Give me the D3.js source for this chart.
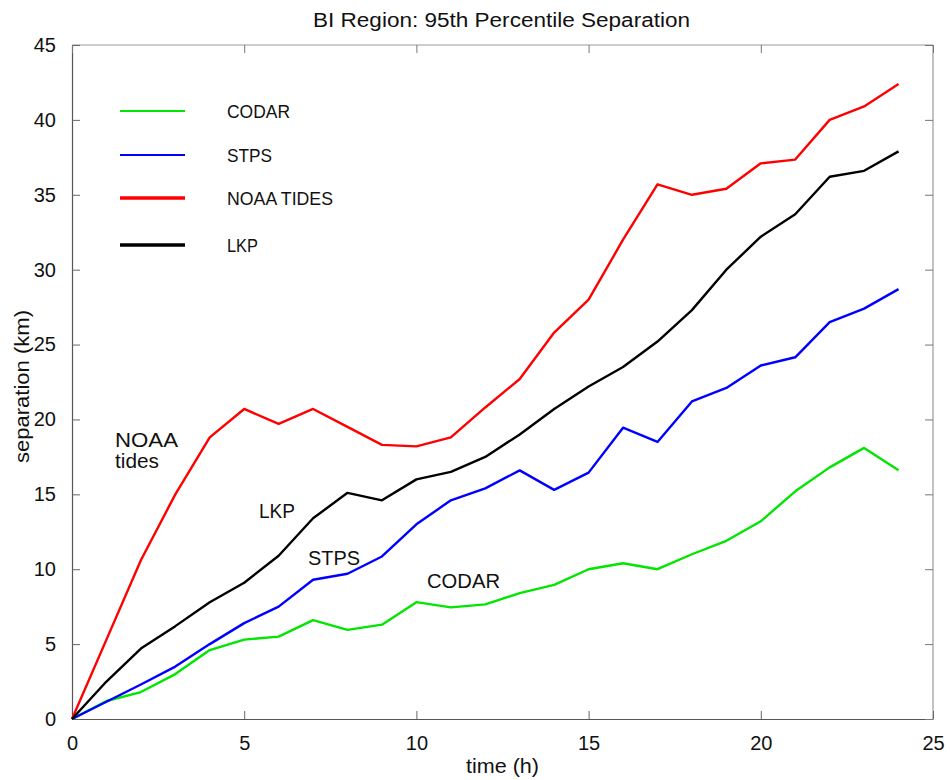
<!DOCTYPE html>
<html>
<head>
<meta charset="utf-8">
<script src="https://cdn.jsdelivr.net/npm/d3@7"></script>
<style>
  html, body { margin: 0; padding: 0; background: #fff; }
  svg { display: block; }
  text { font-family: "Liberation Sans", Arial, Helvetica, sans-serif; fill: #111; }
</style>
</head>
<body>
<svg id="chart" width="950" height="780"></svg>
<script>
// Hourly time steps (h)
const hours = d3.range(0, 25);

// 95th percentile separation (km) for each method
const codar = [0, 1.2, 1.8, 3.0, 4.6, 5.3, 5.5, 6.6, 5.95, 6.3, 7.8, 7.45, 7.65, 8.4, 8.95, 10.0, 10.4, 10.0, 11.0, 11.9, 13.2, 15.2, 16.8, 18.1, 16.6];
const stps = [0, 1.15, 2.3, 3.5, 5.0, 6.4, 7.5, 9.3, 9.7, 10.85, 13.0, 14.6, 15.4, 16.6, 15.3, 16.45, 19.45, 18.5, 21.2, 22.1, 23.6, 24.15, 26.5, 27.4, 28.7];
const noaaTides = [0, 5.3, 10.6, 15.0, 18.8, 20.7, 19.7, 20.7, 19.5, 18.3, 18.2, 18.8, 20.8, 22.7, 25.8, 28.0, 32.0, 35.7, 35.0, 35.4, 37.1, 37.35, 40.0, 40.9, 42.4];
const lkp = [0, 2.5, 4.7, 6.2, 7.8, 9.1, 10.9, 13.4, 15.1, 14.6, 16.0, 16.5, 17.5, 19.0, 20.7, 22.2, 23.5, 25.2, 27.3, 30.0, 32.2, 33.7, 36.2, 36.6, 37.9];

const seriesNames = ["CODAR", "STPS", "NOAA TIDES", "LKP"];
const seriesValues = [codar, stps, noaaTides, lkp];
const seriesColors = ["#00e600", "#0000ff", "#ff0000", "#000000"];

const xTicks = [0, 5, 10, 15, 20, 25];
const yTicks = [0, 5, 10, 15, 20, 25, 30, 35, 40, 45];

const svg = d3.select("#chart");
const plotLeft = 72, plotRight = 933, plotTop = 45, plotBottom = 719;

const x = d3.scaleLinear().domain([0, 25]).range([plotLeft, plotRight]);
const y = d3.scaleLinear().domain([0, 45]).range([plotBottom, plotTop]);

// Plot box: darker left/bottom axes, lighter top/right edges
svg.append("line").attr("x1", plotLeft).attr("x2", plotRight).attr("y1", plotTop).attr("y2", plotTop)
  .attr("stroke", "#9a9a9a").attr("stroke-width", 1.2);
svg.append("line").attr("x1", plotRight).attr("x2", plotRight).attr("y1", plotTop).attr("y2", plotBottom)
  .attr("stroke", "#9a9a9a").attr("stroke-width", 1.2);

// Bottom axis with inward ticks
const xAxis = svg.append("g").attr("transform", `translate(0,${plotBottom})`)
  .call(d3.axisBottom(x).tickValues(xTicks).tickSizeInner(-8).tickSizeOuter(0).tickPadding(17));
xAxis.select(".domain").attr("stroke", "#555").attr("stroke-width", 1.2);
xAxis.selectAll(".tick line").attr("stroke", "#666");
xAxis.selectAll(".tick text").attr("font-size", 20).attr("fill", "#111")
  .attr("font-family", "Liberation Sans, Arial, sans-serif");

// Left axis with inward ticks
const yAxis = svg.append("g").attr("transform", `translate(${plotLeft},0)`)
  .call(d3.axisLeft(y).tickValues(yTicks).tickSizeInner(-8).tickSizeOuter(0).tickPadding(16));
yAxis.select(".domain").attr("stroke", "#555").attr("stroke-width", 1.2);
yAxis.selectAll(".tick line").attr("stroke", "#666");
yAxis.selectAll(".tick text").attr("font-size", 20).attr("fill", "#111")
  .attr("font-family", "Liberation Sans, Arial, sans-serif");

// Mirrored ticks on top and right edges
const topAxis = svg.append("g").attr("transform", `translate(0,${plotTop})`)
  .call(d3.axisTop(x).tickValues(xTicks).tickSizeInner(-8).tickSizeOuter(0).tickFormat(""));
topAxis.select(".domain").remove();
topAxis.selectAll(".tick line").attr("stroke", "#777");
const rightAxis = svg.append("g").attr("transform", `translate(${plotRight},0)`)
  .call(d3.axisRight(y).tickValues(yTicks).tickSizeInner(-8).tickSizeOuter(0).tickFormat(""));
rightAxis.select(".domain").remove();
rightAxis.selectAll(".tick line").attr("stroke", "#777");

// Series lines
const line = d3.line().x((d, i) => x(hours[i])).y(d => y(d));
seriesValues.forEach((vals, k) => {
  svg.append("path").datum(vals)
    .attr("fill", "none")
    .attr("stroke", seriesColors[k])
    .attr("stroke-width", 2.4)
    .attr("stroke-linejoin", "round")
    .attr("d", line);
});

// Legend
const legendRows = [111, 155, 198, 245];
const legendTextLen = [63, 45, 106, 31];
const legendWidths = [2, 2, 3.4, 3.4];
seriesNames.forEach((name, k) => {
  svg.append("line").attr("x1", 120).attr("x2", 185)
    .attr("y1", legendRows[k]).attr("y2", legendRows[k])
    .attr("stroke", seriesColors[k]).attr("stroke-width", legendWidths[k]);
  svg.append("text").attr("x", 227).attr("y", legendRows[k] + 7)
    .attr("font-size", 18.5)
    .attr("textLength", legendTextLen[k]).attr("lengthAdjust", "spacingAndGlyphs")
    .text(name);
});

// In-plot series labels
const inlineLabels = [
  { t: "NOAA", x: 115, y: 447, w: 63 },
  { t: "tides", x: 115, y: 468, w: 44 },
  { t: "LKP", x: 259, y: 518, w: 36 },
  { t: "STPS", x: 308, y: 565, w: 52 },
  { t: "CODAR", x: 427, y: 588, w: 73 }
];
inlineLabels.forEach(l => {
  svg.append("text").attr("x", l.x).attr("y", l.y)
    .attr("font-size", 20.5)
    .attr("textLength", l.w).attr("lengthAdjust", "spacingAndGlyphs")
    .text(l.t);
});

// Title and axis labels
svg.append("text").attr("x", 313).attr("y", 27)
  .attr("font-size", 20).attr("textLength", 377).attr("lengthAdjust", "spacingAndGlyphs")
  .text("BI Region: 95th Percentile Separation");
svg.append("text").attr("x", 466).attr("y", 773)
  .attr("font-size", 20).attr("textLength", 73).attr("lengthAdjust", "spacingAndGlyphs")
  .text("time (h)");
svg.append("text").attr("transform", "translate(29,463) rotate(-90)")
  .attr("font-size", 20.5).attr("textLength", 153).attr("lengthAdjust", "spacingAndGlyphs")
  .text("separation (km)");
</script>
</body>
</html>
